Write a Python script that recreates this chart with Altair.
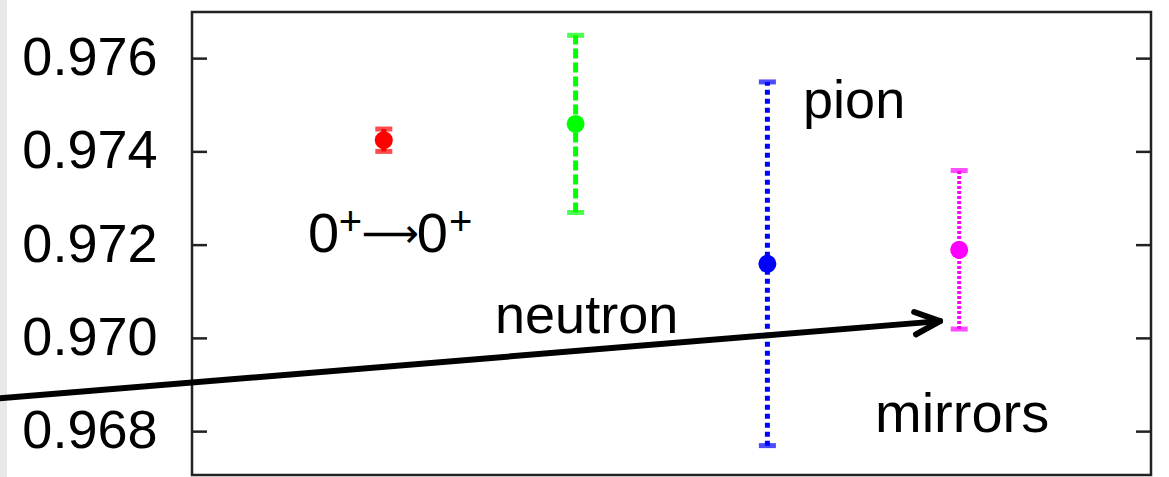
import altair as alt
import pandas as pd

# Vud determinations with their uncertainties
names = ["0+ -> 0+", "neutron", "pion", "mirrors"]
positions = [1, 2, 3, 4]
vud = [0.97425, 0.9746, 0.9716, 0.9719]
vud_err = [0.00024, 0.0019, 0.0039, 0.0017]
colors = ["#ff0000", "#00ff00", "#0000ff", "#ff00ff"]
dashes = [None, [10, 4], [5, 4], [3, 2]]
bar_widths = [5, 5, 5, 4]

# y axis ticks
y_ticks = [0.968, 0.970, 0.972, 0.974, 0.976]
y_domain = [0.96707, 0.977]
x_domain = [0, 5]

# in-plot labels
label_text = ["neutron", "pion", "mirrors"]
label_x = [1.58, 3.186, 3.561]
label_y = [0.970115, 0.97472, 0.96799]
label_size = [54, 54, 56]

# pieces of the "0+ -> 0+" label (digit, superscript plus, long arrow)
trans_text = ["0", "+", "\u27f6", "0", "+"]
trans_x = [0.605, 0.7655, 0.885, 1.172, 1.340]
trans_y = [0.97185, 0.972214, 0.97195, 0.97185, 0.972214]
trans_size = [56, 40, 40, 56, 40]
trans_font = ["Liberation Sans", "Liberation Sans", "DejaVu Sans", "Liberation Sans", "Liberation Sans"]

# annotation arrow (tail -> head)
arrow_x = [-1.05, 3.9]
arrow_y = [0.96870, 0.97037]

W, H = 959, 463
FONT = "Liberation Sans"

df = pd.DataFrame({
    "name": names, "pos": positions, "vud": vud, "err": vud_err,
})
df["lo"] = df["vud"] - df["err"]
df["hi"] = df["vud"] + df["err"]

xs = alt.Scale(domain=x_domain, nice=False, zero=False)
ys = alt.Scale(domain=y_domain, nice=False, zero=False)
Y_AXIS = alt.Axis(
    values=y_ticks, format=".3f", ticks=False, domain=False, grid=False,
    labelFont=FONT, labelFontSize=54, labelColor="#000", labelPadding=35,
    title=None, labelFlush=False,
)


def X(field):
    return alt.X(field, scale=xs, axis=None, title=None)


def Y(field):
    return alt.Y(field, scale=ys, axis=Y_AXIS, title=None)


layers = []

# light strip along the left edge of the figure
layers.append(
    alt.Chart(pd.DataFrame({"k": [0]})).mark_rect(color="#e8e8e8", clip=False).encode(
        x=alt.value(-192), x2=alt.value(-185), y=alt.value(-12), y2=alt.value(H + 2)
    )
)

tick_df = pd.DataFrame({"v": y_ticks})
# inward tick marks on the left and right frame
layers.append(
    alt.Chart(tick_df).mark_rule(strokeWidth=2.5, color="#222").encode(
        y=Y("v:Q"), x=alt.value(0), x2=alt.value(15),
    )
)
layers.append(
    alt.Chart(tick_df).mark_rule(strokeWidth=2.5, color="#222").encode(
        y=Y("v:Q"), x=alt.value(W - 15), x2=alt.value(W),
    )
)

for i, n in enumerate(names):
    base = alt.Chart(df).transform_filter(alt.datum.name == n)
    rule_kw = dict(color=colors[i], strokeWidth=bar_widths[i])
    if dashes[i] is not None:
        rule_kw["strokeDash"] = dashes[i]
    bar = base.mark_rule(**rule_kw).encode(x=X("pos:Q"), y=Y("lo:Q"), y2="hi:Q")
    cap_lo = base.mark_tick(color=colors[i], orient="horizontal", size=17, thickness=5).encode(
        x=X("pos:Q"), y=Y("lo:Q")
    )
    cap_hi = base.mark_tick(color=colors[i], orient="horizontal", size=17, thickness=5).encode(
        x=X("pos:Q"), y=Y("hi:Q")
    )
    dot = base.mark_point(shape="circle", filled=True, size=324, opacity=1, color=colors[i]).encode(
        x=X("pos:Q"), y=Y("vud:Q")
    )
    layers += [bar, cap_lo, cap_hi, dot]

lab_df = pd.DataFrame({"t": label_text, "x": label_x, "y": label_y})
for i in range(len(label_text)):
    layers.append(
        alt.Chart(lab_df).transform_filter(alt.datum.t == label_text[i]).mark_text(
            align="left", baseline="alphabetic", font=FONT, fontSize=label_size[i], color="#000"
        ).encode(x=X("x:Q"), y=Y("y:Q"), text="t:N")
    )

trans_df = pd.DataFrame({"i": list(range(len(trans_text))), "t": trans_text, "x": trans_x, "y": trans_y})
for i in range(len(trans_text)):
    layers.append(
        alt.Chart(trans_df).transform_filter(alt.datum.i == i).mark_text(
            align="left", baseline="alphabetic", font=trans_font[i], fontSize=trans_size[i], color="#000"
        ).encode(x=X("x:Q"), y=Y("y:Q"), text="t:N")
    )

arrow_df = pd.DataFrame({"x": arrow_x, "y": arrow_y})
layers.append(
    alt.Chart(arrow_df).mark_line(color="#000", strokeWidth=6, clip=False, strokeCap="round").encode(
        x=X("x:Q"), y=Y("y:Q")
    )
)
head_df = pd.DataFrame({"x": [arrow_x[1]], "y": [arrow_y[1]]})
layers.append(
    alt.Chart(head_df).mark_point(
        shape="M-1,-0.45L0,0L-1,0.45", size=2500, filled=False, color="#000",
        strokeWidth=6, strokeCap="round", strokeJoin="round", angle=355.3, opacity=1
    ).encode(x=X("x:Q"), y=Y("y:Q"))
)

chart = alt.layer(*layers).properties(
    width=W, height=H,
    autosize=alt.AutoSizeParams(type="none"),
    padding={"left": 192, "top": 12, "right": 18, "bottom": 2},
    background="#ffffff",
).configure_view(stroke="#222", strokeWidth=2.5)

chart.save("out.html", embed_options={"renderer": "svg", "actions": False})
